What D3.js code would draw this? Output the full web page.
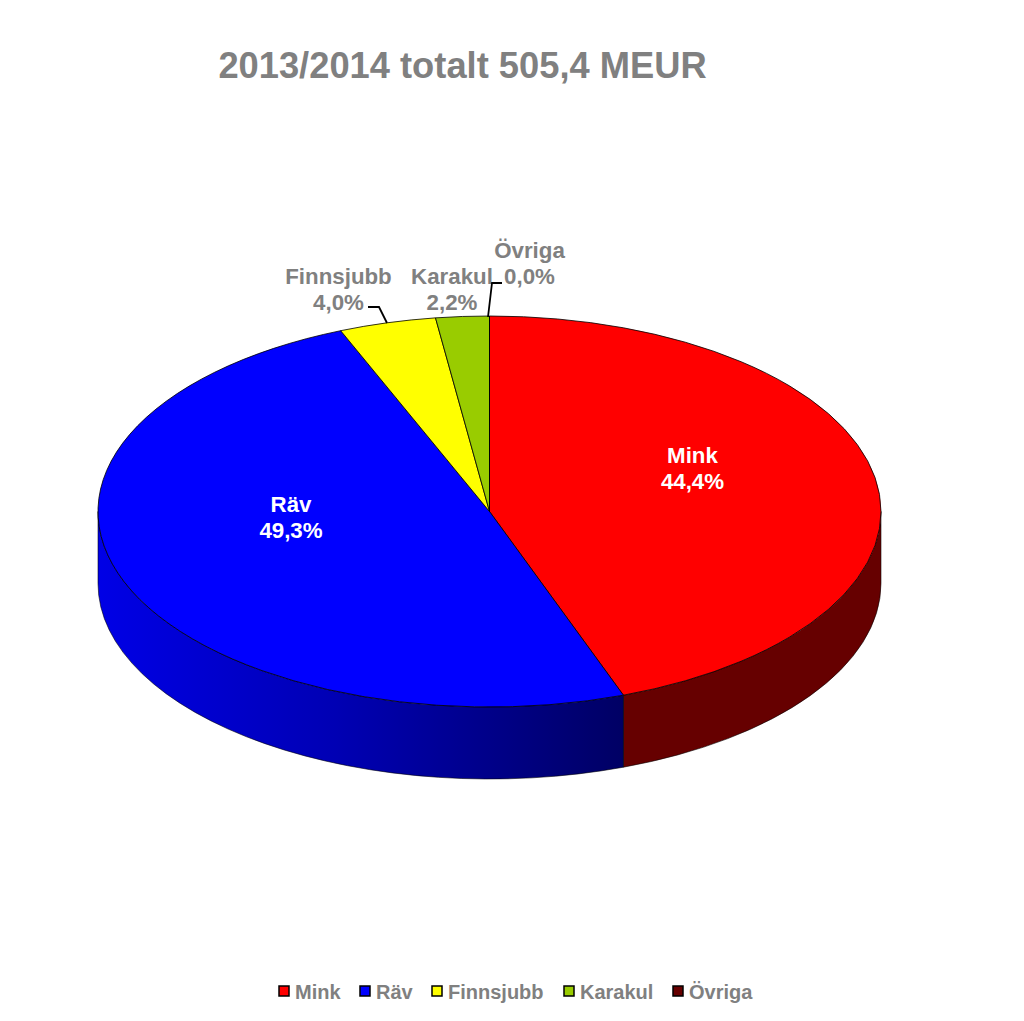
<!DOCTYPE html>
<html>
<head>
<meta charset="utf-8">
<script src="https://cdn.jsdelivr.net/npm/d3@7"></script>
<style>
html, body { margin: 0; padding: 0; background: #fff; }
text { font-family: "Liberation Sans", Arial, sans-serif; font-weight: bold; }
</style>
</head>
<body>
<script>
var width = 1024;
var height = 1021;

var titleText = "2013/2014 totalt 505,4 MEUR";
var categories = ["Mink", "Räv", "Finnsjubb", "Karakul", "Övriga"];
var values = [44.4, 49.3, 4.0, 2.2, 0.0];
var valueLabels = ["44,4%", "49,3%", "4,0%", "2,2%", "0,0%"];
var colors = ["#ff0000", "#0000ff", "#ffff00", "#99cc00", "#660000"];

// Pie geometry
var cx = 489.5, cy = 511.5, rx = 391.5, ry = 195.5, depth = 72;
var grey = "#808080";

var svg = d3.select("body").append("svg")
    .attr("width", width)
    .attr("height", height)
    .style("display", "block");

var defs = svg.append("defs");
var sideGrad = defs.append("linearGradient")
    .attr("id", "sideBlue")
    .attr("gradientUnits", "userSpaceOnUse")
    .attr("x1", cx - rx).attr("x2", 624).attr("y1", 0).attr("y2", 0);
sideGrad.append("stop").attr("offset", "0").attr("stop-color", "#0000e6");
sideGrad.append("stop").attr("offset", "0.45").attr("stop-color", "#0000b4");
sideGrad.append("stop").attr("offset", "1").attr("stop-color", "#000064");

var pie = d3.pie().sort(null).value(function(d) { return d; });
var arcs = pie(values);

function px(a) { return cx + rx * Math.sin(a); }
function py(a) { return cy - ry * Math.cos(a); }

// Outer wall of the pie, only the front half shows
function sidePath(a0, a1) {
    var from = Math.max(a0, Math.PI / 2);
    var to = Math.min(a1, Math.PI * 1.5);
    return "M" + px(from) + "," + py(from) +
        "A" + rx + "," + ry + " 0 0 1 " + px(to) + "," + py(to) +
        "L" + px(to) + "," + (py(to) + depth) +
        "A" + rx + "," + ry + " 0 0 0 " + px(from) + "," + (py(from) + depth) + "Z";
}

var sideFills = ["#660000", "url(#sideBlue)"];
svg.append("g").selectAll("path")
    .data(arcs.slice(0, 2))
    .enter().append("path")
    .attr("d", function(d) { return sidePath(d.startAngle, d.endAngle); })
    .attr("fill", function(d, i) { return sideFills[i]; })
    .attr("stroke", "#000")
    .attr("stroke-opacity", 0.7)
    .attr("stroke-width", 0.8);

// Top face: unit arc squashed into an ellipse
var arc = d3.arc().innerRadius(0).outerRadius(rx);
svg.append("g")
    .attr("transform", "translate(" + cx + "," + cy + ") scale(1," + (ry / rx) + ")")
    .selectAll("path")
    .data(arcs)
    .enter().append("path")
    .attr("d", arc)
    .attr("fill", function(d, i) { return colors[i]; })
    .attr("stroke", "#000")
    .attr("stroke-opacity", 0.8)
    .attr("stroke-width", 1)
    .attr("vector-effect", "non-scaling-stroke");

svg.append("text")
    .attr("x", 462.5)
    .attr("y", 78)
    .attr("text-anchor", "middle")
    .attr("font-size", 36.3)
    .attr("fill", grey)
    .text(titleText);

// Data labels, with leader lines for the small slices
var labelPos = [
    {x: 692.5, y: 463, fill: "#fff"},
    {x: 291, y: 512, fill: "#fff"},
    {x: 338.5, y: 284, fill: grey},
    {x: 452, y: 284, fill: grey},
    {x: 529.5, y: 258, fill: grey}
];
var labels = svg.append("g").selectAll("text")
    .data(categories)
    .enter().append("text")
    .attr("text-anchor", "middle")
    .attr("font-size", 22.3)
    .attr("fill", function(d, i) { return labelPos[i].fill; });
labels.append("tspan")
    .attr("x", function(d, i) { return labelPos[i].x; })
    .attr("y", function(d, i) { return labelPos[i].y; })
    .text(function(d) { return d; });
labels.append("tspan")
    .attr("x", function(d, i) { return labelPos[i].x; })
    .attr("dy", 26)
    .text(function(d, i) { return valueLabels[i]; });

var leaders = [
    [[368, 307], [379, 307], [387, 323]],
    [[502, 283], [492, 283], [488, 317]]
];
svg.append("g").selectAll("path")
    .data(leaders)
    .enter().append("path")
    .attr("d", d3.line())
    .attr("fill", "none")
    .attr("stroke", "#000")
    .attr("stroke-width", 1.8);

// Legend
var legendX = [279, 360, 432, 564, 673];
var legend = svg.append("g").selectAll("g")
    .data(categories)
    .enter().append("g")
    .attr("transform", function(d, i) { return "translate(" + legendX[i] + ",986)"; });
legend.append("rect")
    .attr("width", 10).attr("height", 10)
    .attr("fill", function(d, i) { return colors[i]; })
    .attr("stroke", "#000")
    .attr("stroke-width", 1.5);
legend.append("text")
    .attr("x", 16)
    .attr("y", 13)
    .attr("font-size", 20)
    .attr("fill", grey)
    .text(function(d) { return d; });
</script>
</body>
</html>
